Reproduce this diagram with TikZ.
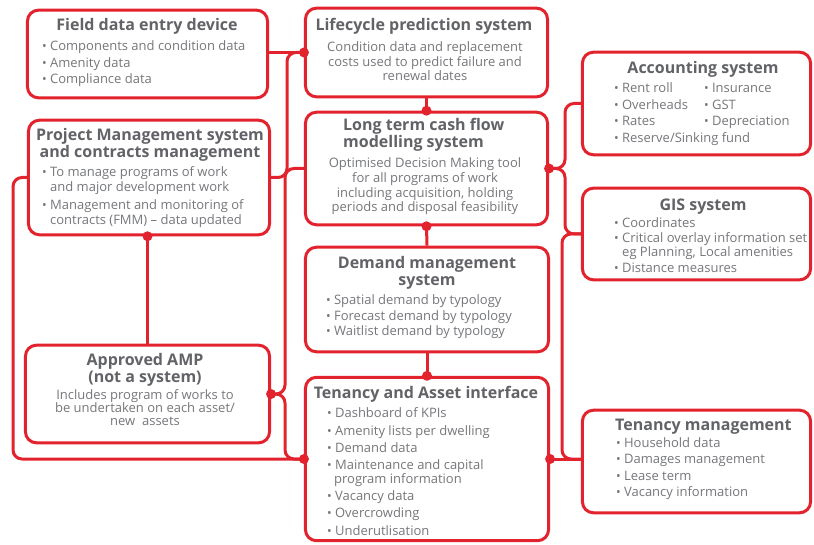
\documentclass[tikz,border=0pt]{standalone}
\usepackage{fontspec}
\setmainfont{Open Sans}
\definecolor{myred}{RGB}{226,35,45}
\definecolor{bodygray}{RGB}{118,119,123}
\definecolor{titlegray}{RGB}{98,99,103}
\newcommand\bul{\raisebox{0.05ex}{\scalebox{0.95}{•}}\hspace{0.25em}}
\newcommand\txtL[4]{\node[bdy, anchor=base west] (#1) at (#2,#3) {#4};}
\newcommand\txtC[4]{\node[bdy, anchor=base] (#1) at (#2,#3) {#4};}
\newcommand\ttlC[4]{\node[ttl, anchor=base] (#1) at (#2,#3) {#4};}
\newcommand\ttlL[4]{\node[ttl, anchor=base west] (#1) at (#2,#3) {#4};}
\begin{document}
\begin{tikzpicture}[x=1bp,y=-1bp,
  box/.style={draw=myred, line width=3bp, rounded corners=11bp, fill=white, inner sep=0},
  conn/.style={draw=myred, line width=3bp, rounded corners=9bp},
  dot/.style={circle, fill=myred, inner sep=0, minimum size=10bp},
  ttl/.style={font=\fontsize{16bp}{18bp}\selectfont\bfseries, text=titlegray, inner sep=0},
  bdy/.style={font=\fontsize{13bp}{14bp}\selectfont, text=bodygray, inner sep=0}]
\useasboundingbox (0,0) rectangle (814,545);
% boxes
\node[box, minimum width=241, minimum height=88] (field) at (147.5,54) {};
\node[box, minimum width=243, minimum height=89] (lc) at (426.5,52.5) {};
\node[box, minimum width=229, minimum height=103] (acc) at (696.5,103.5) {};
\node[box, minimum width=242, minimum height=115] (pm) at (149,177.5) {};
\node[box, minimum width=243, minimum height=113] (lt) at (426.5,168.5) {};
\node[box, minimum width=229, minimum height=92] (gis) at (696.5,234) {};
\node[box, minimum width=245, minimum height=98] (amp) at (147.5,394) {};
\node[box, minimum width=244, minimum height=105] (dm) at (427,299.5) {};
\node[box, minimum width=244, minimum height=164] (ta) at (427,459) {};
\node[box, minimum width=229, minimum height=103] (tm) at (696.5,461.5) {};
% junction columns
\coordinate (jL0) at (13,0);
\coordinate (jL1) at (287,0);
\coordinate (jL2) at (285,0);
\coordinate (jR1) at (565,0);
\coordinate (jR2) at (562,0);
\coordinate (lcW) at (lc.west);
% connectors
\draw[conn] (field.east |- lcW) -- (lcW);
\draw[conn] (pm.east) -| (jL1 |- lcW) -- (lcW);
\draw[conn] (amp.east) -| (jL2 |- lt.west) -- (lt.west);
\draw[conn] (amp.east) -| (jL2 |- ta.west) -- (ta.west);
\draw[conn] (pm.west) -| (jL0 |- ta.west) -- (ta.west);
\draw[conn] (amp.north |- pm.south) -- (amp.north);
\draw[conn] (lc.south) -- (lt.north);
\draw[conn] (lt.south) -- (dm.north);
\draw[conn] (dm.south) -- (ta.north);
\draw[conn] (lt.east) -| (jR1 |- acc.west) -- (acc.west);
\draw[conn] (lt.east) -| (jR1 |- gis.west) -- (gis.west);
\draw[conn] (gis.west) -| (jR2 |- ta.east) -- (tm.west |- ta.east);
\draw[conn] (ta.east) -- (tm.west |- ta.east);
% dots
\node[dot] (d1) at (lcW) {};
\node[dot] (d2) at (amp.north |- pm.south) {};
\node[dot] (d3) at (amp.east) {};
\node[dot] (d4) at (ta.west) {};
\node[dot] (d5) at (ta.north) {};
\node[dot] (d6) at (ta.east) {};
\node[dot] (d7) at (lt.east) {};
\node[dot] (d8) at (lt.north) {};
\node[dot] (d9) at (lt.south) {};
% Field
\ttlC{fT}{147}{30.5}{Field data entry device}
\txtL{f1}{42}{51}{\bul Components and condition data}
\txtL{f2}{42}{67.5}{\bul Amenity data}
\txtL{f3}{42}{84}{\bul Compliance data}
% Lifecycle
\ttlC{lT}{424}{30.5}{Lifecycle prediction system}
\txtC{l1}{425}{51.5}{Condition data and replacement}
\txtC{l2}{425}{66.5}{costs used to predict failure and}
\txtC{l3}{425}{80.5}{renewal dates}
% Accounting
\ttlC{aT}{703}{73.5}{Accounting system}
\txtL{a1}{614}{92.5}{\bul Rent roll}
\txtL{a2}{614}{109.5}{\bul Overheads}
\txtL{a3}{614}{126}{\bul Rates}
\txtL{a4}{614}{142.5}{\bul Reserve/Sinking fund}
\txtL{a5}{704}{92.5}{\bul Insurance}
\txtL{a6}{704}{109.5}{\bul GST}
\txtL{a7}{704}{126}{\bul Depreciation}
% Project management
\ttlC{pT1}{150}{140.5}{Project Management system}
\ttlC{pT2}{150}{157.5}{and contracts management}
\txtL{p1}{42}{176.5}{\bul To manage programs of work}
\txtL{p2}{50}{191.5}{and major development work}
\txtL{p3}{42}{209.5}{\bul Management and monitoring of}
\txtL{p4}{50}{224.5}{contracts (FMM) – data updated}
% Long term
\ttlL{ltT1}{343}{130.5}{Long term cash flow}
\ttlL{ltT2}{343}{147.5}{modelling system}
\txtC{lt1}{425}{167.5}{Optimised Decision Making tool}
\txtC{lt2}{425}{182.5}{for all programs of work}
\txtC{lt3}{425}{197.5}{including acquisition, holding}
\txtC{lt4}{425}{211.5}{periods and disposal feasibility}
% GIS
\ttlC{gT}{703}{210.5}{GIS system}
\txtL{g1}{614}{227.5}{\bul Coordinates}
\txtL{g2}{614}{242.5}{\bul Critical overlay information set}
\txtL{g3}{622}{256.5}{eg Planning, Local amenities}
\txtL{g4}{614}{272.5}{\bul Distance measures}
% AMP
\ttlC{amT1}{145}{365.5}{Approved AMP}
\ttlC{amT2}{145}{382.5}{(not a system)}
\txtC{am1}{145}{399.5}{Includes program of works to}
\txtC{am2}{145}{412.5}{be undertaken on each asset/}
\txtC{am3}{145}{425.5}{new\ \ assets}
% Demand
\ttlC{dT1}{427}{268.5}{Demand management}
\ttlC{dT2}{427}{285.5}{system}
\txtL{dm1}{326}{304.5}{\bul Spatial demand by typology}
\txtL{dm2}{326}{320.5}{\bul Forecast demand by typology}
\txtL{dm3}{326}{335.5}{\bul Waitlist demand by typology}
% Tenancy and asset
\ttlC{tT}{426}{398.5}{Tenancy and Asset interface}
\txtL{t1}{327}{417.5}{\bul Dashboard of KPIs}
\txtL{t2}{327}{435.5}{\bul Amenity lists per dwelling}
\txtL{t3}{327}{452.5}{\bul Demand data}
\txtL{t4}{327}{469.5}{\bul Maintenance and capital}
\txtL{t5}{334}{483.5}{program information}
\txtL{t6}{327}{500.5}{\bul Vacancy data}
\txtL{t7}{327}{517.5}{\bul Overcrowding}
\txtL{t8}{327}{535.5}{\bul Underutlisation}
% Tenancy management
\ttlL{tmT}{615}{430.5}{Tenancy management}
\txtL{tm1}{616}{447.5}{\bul Household data}
\txtL{tm2}{616}{463.5}{\bul Damages management}
\txtL{tm3}{616}{480.5}{\bul Lease term}
\txtL{tm4}{616}{496.5}{\bul Vacancy information}
\end{tikzpicture}
\end{document}
